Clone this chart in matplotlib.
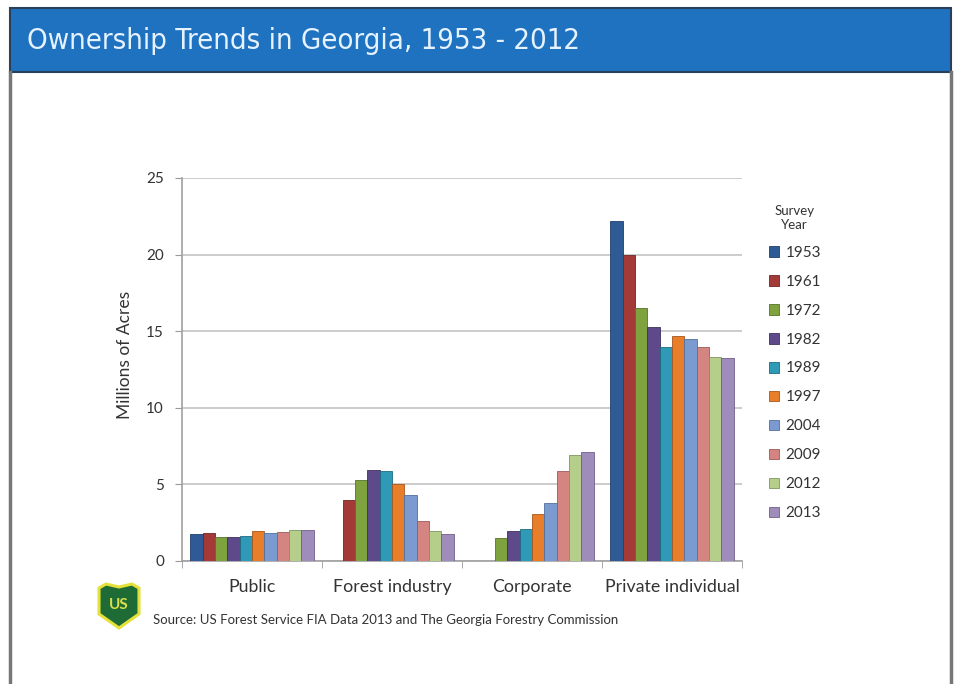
import numpy as np
import matplotlib.pyplot as plt
from matplotlib.patches import Rectangle, Polygon

# ===============================
# Dados
# ===============================
categorias = ["Public", "Forest industry", "Corporate", "Private individual"]
anos = ["1953", "1961", "1972", "1982", "1989", "1997", "2004", "2009", "2012", "2013"]

public = [1.75, 1.85, 1.55, 1.55, 1.6, 1.95, 1.8, 1.9, 2.0, 2.0]
forest_industry = [0.0, 4.0, 5.3, 5.95, 5.9, 5.0, 4.3, 2.6, 1.95, 1.75]
corporate = [0.0, 0.0, 1.5, 1.95, 2.1, 3.1, 3.8, 5.9, 6.9, 7.1]
private_individual = [22.2, 20.0, 16.5, 15.3, 14.0, 14.7, 14.5, 13.95, 13.3, 13.25]

cores = ["#2E5B95", "#A33A37", "#7EA33E", "#5E4A8A", "#2E9AB8",
         "#E87D2A", "#7B9BD0", "#D48582", "#B5CF8A", "#9E8CBB"]
bordas = ["#1F3F6A", "#6E2624", "#56722A", "#3F315E", "#1F6A80",
          "#A9561C", "#51709E", "#9C5A58", "#7E9560", "#6E5F88"]

valores = np.array([public, forest_industry, corporate, private_individual])

# ===============================
# Figura
# ===============================
W, H = 956, 684
plt.rcParams["font.family"] = ["Lato", "DejaVu Sans"]
fig = plt.figure(figsize=(W / 100, H / 100), dpi=100)
fig.patch.set_facecolor("white")


def fx(x):
    return x / W


def fy(y):
    return 1 - y / H


# moldura do slide
fig.add_artist(plt.Line2D([fx(10), fx(10)], [fy(72), 0], color="#777777", lw=2.5))
fig.add_artist(plt.Line2D([fx(951), fx(951)], [fy(72), 0], color="#777777", lw=2.5))

# cabeçalho azul
fig.add_artist(Rectangle((fx(10), fy(72)), fx(941), (72 - 8) / H,
                         facecolor="#1F72C0", edgecolor="#2A3F5A", lw=1.5,
                         transform=fig.transFigure))
fig.text(fx(27), fy(41), "Ownership Trends in Georgia, 1953 - 2012",
         family=["Liberation Sans Narrow", "DejaVu Sans"], fontstretch="condensed",
         fontsize=21, color="#E6F3FF", va="center", ha="left")

# ===============================
# Gráfico de barras
# ===============================
ax = fig.add_axes([fx(182), fy(561), (742 - 182) / W, (561 - 178) / H])

n = len(anos)
largura_grupo = 0.88
largura = largura_grupo / n
x = np.arange(len(categorias))

for i, ano in enumerate(anos):
    pos = x - largura_grupo / 2 + largura * (i + 0.5)
    ax.bar(pos, valores[:, i], width=largura, color=cores[i],
           edgecolor=bordas[i], linewidth=0.6, label=ano, zorder=3)

ax.set_xlim(-0.5, len(categorias) - 0.5)
ax.set_ylim(0, 25)
ax.set_yticks([0, 5, 10, 15, 20, 25])
ax.yaxis.grid(True, color="#C8C8C8", lw=1.3, zorder=0)
ax.set_xticks(x)
ax.set_xticklabels(categorias, fontsize=12.8, color="#333333")
ax.set_xticks(np.arange(-0.5, len(categorias)), minor=True)
ax.tick_params(axis="x", which="major", length=0, pad=13)
ax.tick_params(axis="x", which="minor", length=5, color="#999999")
ax.tick_params(axis="y", length=5, color="#999999", labelsize=11,
               labelcolor="#333333", pad=8)

for s in ["top", "right"]:
    ax.spines[s].set_visible(False)
for s in ["left", "bottom"]:
    ax.spines[s].set_color("#A0A0A0")
    ax.spines[s].set_linewidth(1.2)

fig.text(fx(125), fy(355), "Millions of Acres", rotation=90,
         fontsize=12.5, color="#333333", ha="center", va="center")

leg = ax.legend(loc="upper left", bbox_to_anchor=(fx(761), fy(197)),
                bbox_transform=fig.transFigure, frameon=False,
                title="Survey\nYear", fontsize=11, title_fontsize=9.5,
                handlelength=0.7, handleheight=0.7, handletextpad=0.4,
                labelspacing=0.98, borderpad=0, alignment="center")
leg.get_title().set_color("#333333")
leg.get_title().set_multialignment("center")
for t in leg.get_texts():
    t.set_color("#333333")

# ===============================
# Fonte e logotipo
# ===============================
fig.text(fx(153), fy(620), "Source: US Forest Service FIA Data 2013 and The Georgia Forestry Commission",
         fontsize=9.5, color="#333333", va="center", ha="left")

escudo = Polygon([(fx(99), fy(588)), (fx(106), fy(584)), (fx(119), fy(587)),
                  (fx(132), fy(584)), (fx(139), fy(588)), (fx(139), fy(614)),
                  (fx(119), fy(628)), (fx(99), fy(614))],
                 closed=True, facecolor="#1E6B35", edgecolor="#E4E23A", lw=2.2,
                 transform=fig.transFigure)
fig.add_artist(escudo)
fig.text(fx(119), fy(605), "US", fontsize=11, fontweight="bold",
         color="#D8E04A", ha="center", va="center")

fig.savefig("out.png", dpi=100, facecolor="white")
